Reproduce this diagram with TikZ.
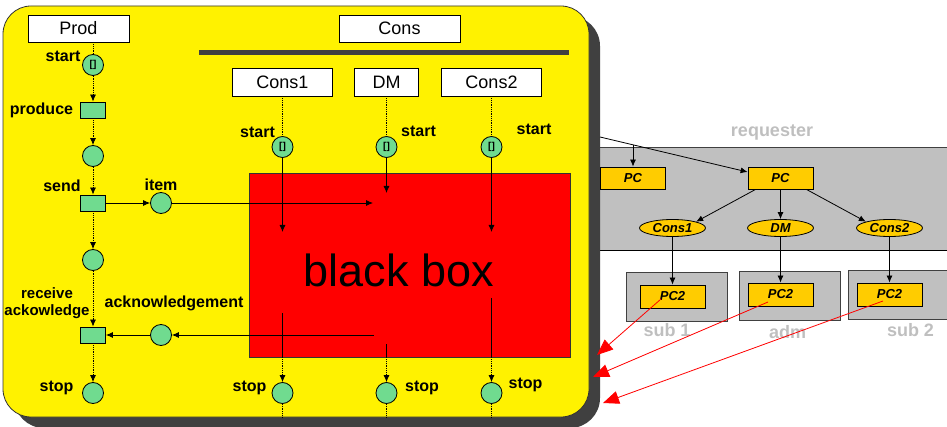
\documentclass[tikz,border=0pt]{standalone}
\usepackage{fontspec}
\setmainfont{Liberation Sans}
\usetikzlibrary{arrows.meta,shapes.geometric}
\definecolor{token}{RGB}{112,219,143}
\definecolor{dkgray}{RGB}{64,64,64}
\definecolor{panel}{RGB}{192,192,192}
\definecolor{amber}{RGB}{255,204,0}
\definecolor{faint}{RGB}{191,191,191}
\begin{document}
\begin{tikzpicture}[x=1pt,y=-1pt,line width=0.8pt,
  place/.style={circle,draw=black,fill=token,minimum size=21pt,inner sep=0pt,font=\bfseries\fontsize{10}{10}\selectfont},
  trans/.style={rectangle,draw=black,fill=token,minimum width=25pt,minimum height=16pt,inner sep=0pt},
  lbl/.style={font=\bfseries\fontsize{16}{18}\selectfont,inner sep=0pt},
  head/.style={draw=black,fill=white,inner sep=0pt,font=\fontsize{18}{20}\selectfont},
  pc/.style={draw=black,fill=amber,inner sep=0pt,minimum width=65pt,minimum height=22pt,font=\bfseries\itshape\fontsize{13}{15}\selectfont},
  comp/.style={ellipse,draw=black,fill=amber,inner sep=0pt,minimum width=66pt,minimum height=17pt,font=\bfseries\itshape\fontsize{13}{15}\selectfont},
  zone/.style={draw=dkgray,fill=panel},
  zonelbl/.style={text=faint,font=\bfseries\fontsize{18}{20}\selectfont,inner sep=0pt},
  arr/.style={-{Latex[length=7pt,width=6pt]}},
  life/.style={densely dotted},
  hint/.style={red,-{Triangle[length=16pt,width=13pt]}}
]
\useasboundingbox (0,0) rectangle (947,427);

% ---- requester band and subsystems ----
\fill[panel] (590,147) rectangle (948,250);
\draw[dkgray] (590,147) -- (948,147);
\draw[black] (590,250) -- (948,250);
\node[zonelbl,anchor=base] (lreq) at (772,137) {requester};
\draw[zone] (626,272) rectangle (727,321);
\draw[zone] (739,271) rectangle (840,320);
\draw[zone] (848,270) rectangle (949,319);
\node[zonelbl,anchor=base] (lsub1) at (667,337) {sub 1};
\node[zonelbl,anchor=base] (ladm) at (787.5,338) {adm};
\node[zonelbl,anchor=base] (lsub2) at (910.5,337) {sub 2};

% ---- yellow panel with its shadow ----
\fill[dkgray,rounded corners=30pt] (14,16) rectangle (600,428);
\draw[fill=yellow,draw=black!80,rounded corners=28pt] (3,6) rectangle (589,417);

% ---- headers ----
\node[head,minimum width=101pt,minimum height=27pt] (prod) at (78.5,28.5) {Prod};
\node[head,minimum width=121pt,minimum height=27pt] (cons) at (399.5,28.5) {Cons};
\fill[dkgray] (199,50) rectangle (569,55);
\node[head,minimum width=100pt,minimum height=28pt] (hc1) at (282.5,82) {Cons1};
\node[head,minimum width=64pt,minimum height=28pt] (hdm) at (386.5,82) {DM};
\node[head,minimum width=100pt,minimum height=28pt] (hc2) at (491.5,82) {Cons2};

% ---- black box ----
\node[draw=black!80,fill=red,minimum width=321pt,minimum height=184pt,inner sep=0pt] (bb) at (409.5,265) {};
\node[font=\fontsize{45}{50}\selectfont,anchor=base,inner sep=0pt] (bbl) at (399,287) {black box};

% ---- producer net ----
\node[place] (ps) at (93,65) {[]};
\node[trans] (produce) at (93,110) {};
\node[place] (p1) at (93,156) {};
\node[trans] (send) at (93,203) {};
\node[place] (item) at (161,203) {};
\node[place] (p2) at (93,260) {};
\node[trans] (rack) at (93,335) {};
\node[place] (ackp) at (161,335) {};
\node[place] (pstop) at (93,393) {};

\node[lbl,anchor=base] (lps) at (63,62) {start};
\node[lbl,anchor=base] (lproduce) at (41.5,115) {produce};
\node[lbl,anchor=base] (lsend) at (62,192) {send};
\node[lbl,anchor=base] (litem) at (161,191) {item};
\node[lbl,align=center,font=\bfseries\fontsize{15}{17}\selectfont] (lrack) at (47,303) {receive\\ackowledge};
\node[lbl,anchor=base] (lack) at (174,308) {acknowledgement};
\node[lbl,anchor=base] (lpstop) at (56.5,391) {stop};

% ---- consumer nets ----
\node[place] (c1s) at (282.5,147) {[]};
\node[place] (ds) at (386.5,147) {[]};
\node[place] (c2s) at (491.5,147) {[]};
\node[place] (c1t) at (282.5,393) {};
\node[place] (dt) at (386.5,393) {};
\node[place] (c2t) at (491.5,393) {};

\node[lbl,anchor=base] (lc1s) at (257.5,138) {start};
\node[lbl,anchor=base] (lds) at (418.5,137) {start};
\node[lbl,anchor=base] (lc2s) at (534,135) {start};
\node[lbl,anchor=base] (lc1t) at (249.5,391) {stop};
\node[lbl,anchor=base] (ldt) at (422,391) {stop};
\node[lbl,anchor=base] (lc2t) at (525.5,388) {stop};

% ends of the connectors inside the black box
\coordinate (itemin) at (373,203);
\coordinate (ackout) at (374,335);
\coordinate (c1in) at (282.5,232);
\coordinate (din) at (386.5,193);
\coordinate (c2in) at (491.5,232);
\coordinate (c1out) at (282.5,313);
\coordinate (dout) at (386.5,344);
\coordinate (c2out) at (491.5,298);
\coordinate (c1end) at (282.5,417);
\coordinate (dend) at (386.5,417);
\coordinate (c2end) at (491.5,417);

% producer connectors
\draw[life] (ps.north |- prod.south) -- (ps.north);
\draw[life,arr] (ps) -- (produce);
\draw[life,arr] (produce) -- (p1);
\draw[life,arr] (p1) -- (send);
\draw[life,arr] (send) -- (p2);
\draw[life,arr] (p2) -- (rack);
\draw[life,arr] (rack) -- (pstop);
\draw[arr] (send) -- (item);
\draw[arr] (item) -- (itemin);
\draw[arr] (ackout) -- (ackp);
\draw[arr] (ackp) -- (rack);

% consumer connectors
\draw[life] (hc1.south) -- (c1s);
\draw[life] (hdm.south) -- (ds);
\draw[life] (hc2.south) -- (c2s);
\draw[arr] (c1s) -- (c1in);
\draw[arr] (ds) -- (din);
\draw[arr] (c2s) -- (c2in);
\draw (c1out) -- (c1out |- bb.south);
\draw (dout) -- (dout |- bb.south);
\draw (c2out) -- (c2out |- bb.south);
\draw[life,arr] (c1out |- bb.south) -- (c1t);
\draw[life,arr] (dout |- bb.south) -- (dt);
\draw[life,arr] (c2out |- bb.south) -- (c2t);
\draw[life] (c1t) -- (c1end);
\draw[life] (dt) -- (dend);
\draw[life] (c2t) -- (c2end);

% ---- requester structure ----
\coordinate (tap) at (600,137);
\node[pc] (pcl) at (633,178) {PC};
\node[pc] (pcm) at (780.5,178) {PC};
\node[comp] (c1e) at (672.5,228) {Cons1};
\node[comp] (dme) at (780.5,228) {DM};
\node[comp] (c2e) at (889.5,228) {Cons2};
\node[pc,minimum height=23pt] (pc2a) at (672.5,296.5) {PC2};
\node[pc,minimum height=23pt] (pc2b) at (780.5,294.5) {PC2};
\node[pc,minimum height=23pt] (pc2c) at (889.5,294.5) {PC2};

\draw[arr] (tap) -- ([yshift=6pt]pcm.west);
\draw[arr] ([yshift=22pt]pcl.north) -- (pcl.north);
\draw[arr] ([xshift=8pt]pcm.south west) -- (c1e.north east);
\draw[arr] (pcm.south) -- (dme.north);
\draw[arr] ([xshift=-7pt]pcm.south east) -- (c2e.north west);
\draw[arr] (c1e) -- (pc2a);
\draw[arr] (dme) -- (pc2b);
\draw[arr] (c2e) -- (pc2c);

% ---- links back to the panel ----
\coordinate (h1) at (661,299);
\coordinate (h1t) at (597,355);
\coordinate (h2) at (768,302);
\coordinate (h2t) at (593,377);
\coordinate (h3) at (883,301);
\coordinate (h3t) at (603,403);
\draw[hint] (h1) -- (h1t);
\draw[hint] (h2) -- (h2t);
\draw[hint] (h3) -- (h3t);
\end{tikzpicture}
\end{document}
